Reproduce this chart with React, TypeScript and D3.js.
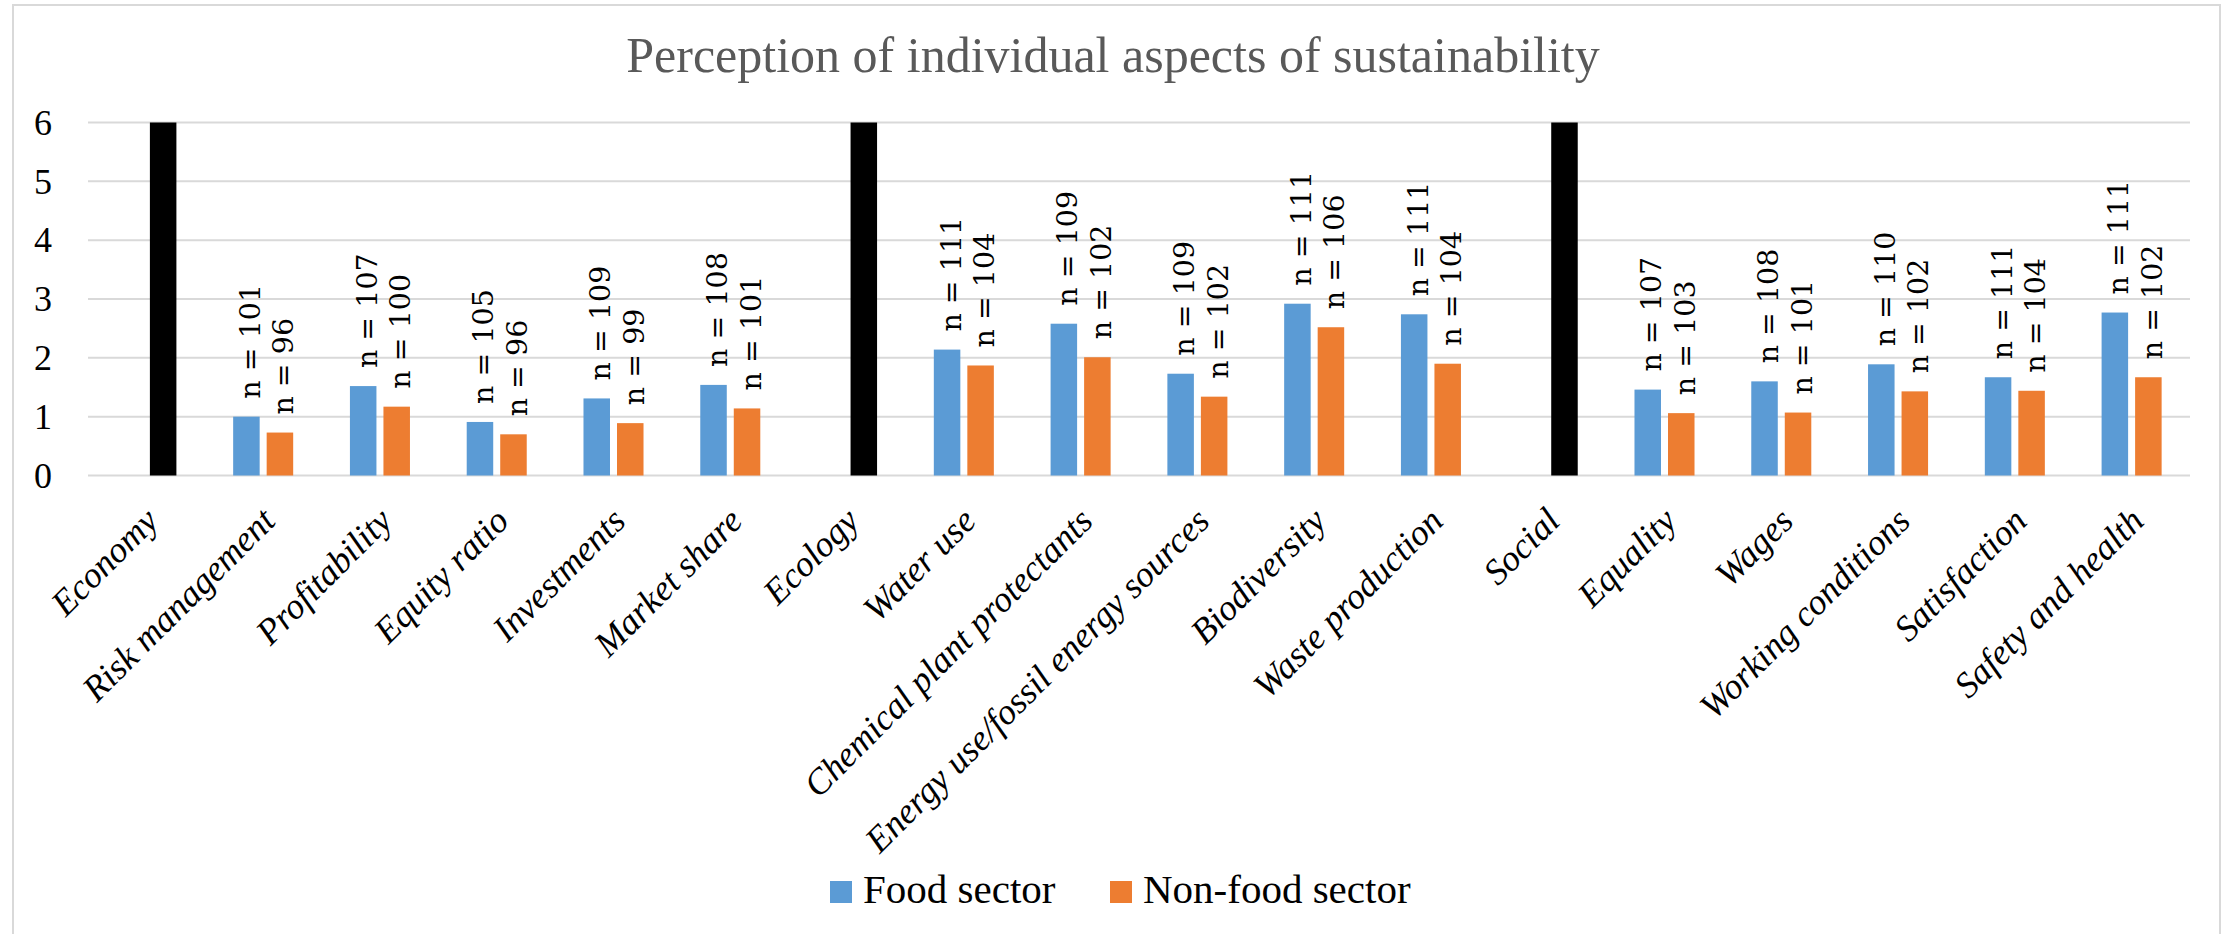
import * as d3 from 'd3';
import { useEffect, useRef } from 'react';

const categories = [
    "Economy", "Risk management", "Profitability", "Equity ratio", "Investments", "Market share",
    "Ecology", "Water use", "Chemical plant protectants", "Energy use/fossil energy sources", "Biodiversity", "Waste production",
    "Social", "Equality", "Wages", "Working conditions", "Satisfaction", "Safety and health",
];
// the three group headers are drawn as a black bar up to the top of the axis
const headerCategories = ["Economy", "Ecology", "Social"];
const headerValue = 6;

const foodValues = [null, 1.00, 1.52, 0.91, 1.31, 1.54, null, 2.14, 2.58, 1.73, 2.92, 2.74, null, 1.46, 1.60, 1.89, 1.67, 2.77];
const nonFoodValues = [null, 0.73, 1.17, 0.70, 0.89, 1.14, null, 1.87, 2.01, 1.34, 2.52, 1.90, null, 1.06, 1.07, 1.43, 1.44, 1.67];
const foodN = [null, 101, 107, 105, 109, 108, null, 111, 109, 109, 111, 111, null, 107, 108, 110, 111, 111];
const nonFoodN = [null, 96, 100, 96, 99, 101, null, 104, 102, 102, 106, 104, null, 103, 101, 102, 104, 102];

const yTicks = [0, 1, 2, 3, 4, 5, 6];
const seriesNames = ["Food sector", "Non-food sector"];
const seriesColors = ["#5B9BD5", "#ED7D31"];

const App = () => {
    const ref = useRef<SVGSVGElement>(null);
    useEffect(() => {
        DrawChart()
    }, []);
    const DrawChart = () => {
        var svg = d3.select(ref.current);
        svg.selectAll("*").remove();
        var font = "'Liberation Serif', 'Times New Roman', serif";
        var labelFont = "'DejaVu Serif', serif";
        var left = 88, right = 2190, top = 122.5, bottom = 475.5;

        // chart area border
        svg.append("rect")
            .attr("x", 13).attr("y", 5)
            .attr("width", 2207).attr("height", 1000)
            .attr("fill", "#fff")
            .attr("stroke", "#d9d9d9")
            .attr("stroke-width", 2);

        var x: any = d3.scaleBand()
            .domain(categories)
            .range([left, right])
            .paddingInner(0.486)
            .paddingOuter(0.243);
        var xs: any = d3.scaleBand()
            .domain(["food", "nonfood"])
            .range([0, x.bandwidth()])
            .paddingInner(0.209);
        var y: any = d3.scaleLinear()
            .domain([0, 6])
            .range([bottom, top]);

        // Title
        svg.append("text")
            .attr("x", 1113)
            .attr("y", 72)
            .attr("text-anchor", "middle")
            .style("font-family", font)
            .style("font-size", "50px")
            .attr("fill", "#595959")
            .text("Perception of individual aspects of sustainability");

        // gridlines and y labels
        svg.selectAll(".grid")
            .data(yTicks)
            .enter().append("line")
            .attr("x1", left).attr("x2", right)
            .attr("y1", (d: any) => y(d)).attr("y2", (d: any) => y(d))
            .attr("stroke", "#d9d9d9")
            .attr("stroke-width", 2);
        svg.selectAll(".ylab")
            .data(yTicks)
            .enter().append("text")
            .attr("x", 52)
            .attr("y", (d: any) => y(d))
            .attr("dy", "0.34em")
            .attr("text-anchor", "end")
            .style("font-family", font)
            .style("font-size", "36px")
            .attr("fill", "#000")
            .text((d: any) => d);

        // Header bars
        svg.selectAll(".header")
            .data(headerCategories)
            .enter().append("rect")
            .attr("x", (d: any) => x(d) + xs("nonfood"))
            .attr("width", xs.bandwidth())
            .attr("y", y(headerValue))
            .attr("height", y(0) - y(headerValue))
            .attr("fill", "#000");

        // Bars + n labels
        var series = [
            { key: "food", values: foodValues, n: foodN, color: seriesColors[0] },
            { key: "nonfood", values: nonFoodValues, n: nonFoodN, color: seriesColors[1] },
        ];
        series.forEach(function (s) {
            var rows = categories.map((c, i) => ({ cat: c, v: s.values[i], n: s.n[i] })).filter(r => r.v != null);
            svg.selectAll(".bar-" + s.key)
                .data(rows)
                .enter().append("rect")
                .attr("x", (d: any) => x(d.cat) + xs(s.key))
                .attr("width", xs.bandwidth())
                .attr("y", (d: any) => y(d.v))
                .attr("height", (d: any) => y(0) - y(d.v))
                .attr("fill", s.color);
            svg.selectAll(".lab-" + s.key)
                .data(rows)
                .enter().append("text")
                .attr("transform", (d: any) => "translate(" + (x(d.cat) + xs(s.key) + xs.bandwidth() / 2 + 13.5) + "," + (y(d.v) - 18) + ")rotate(-90)")
                .style("font-family", labelFont)
                .style("font-size", "28.5px")
                .attr("fill", "#000")
                .text((d: any) => "n = " + d.n);
        });

        // x labels
        svg.selectAll(".xlab")
            .data(categories)
            .enter().append("text")
            .attr("text-anchor", "end")
            .attr("transform", (d: any) => "translate(" + (x(d) + x.bandwidth() / 2 + 14) + ",523)rotate(-45)")
            .style("font-family", font)
            .style("font-size", "36px")
            .style("font-style", "italic")
            .attr("fill", "#000")
            .text((d: any) => d);

        // Legend
        var legX = [830, 1110];
        seriesNames.forEach(function (name, i) {
            svg.append("rect")
                .attr("x", legX[i]).attr("y", 881)
                .attr("width", 22).attr("height", 22)
                .attr("fill", seriesColors[i]);
            svg.append("text")
                .attr("x", legX[i] + 33).attr("y", 903)
                .style("font-family", font)
                .style("font-size", "41px")
                .attr("fill", "#000")
                .text(name);
        });
    }
    return (
        <svg ref={ref} width={2223} height={934} style={{ position: "absolute", left: 0, top: 0, background: "#fff" }}></svg>
    )
}
export default App;
